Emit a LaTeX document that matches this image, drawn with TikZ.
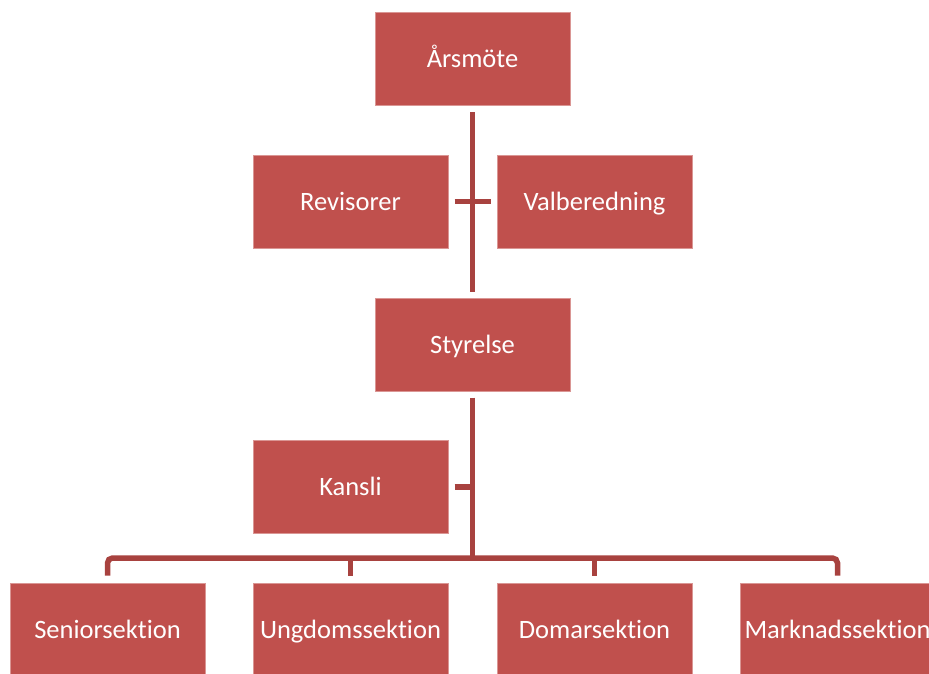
\documentclass[tikz,border=0pt]{standalone}
\usepackage{fontspec}
\setmainfont{Carlito}[Ligatures=NoCommon]
\usetikzlibrary{calc}
\definecolor{boxred}{HTML}{C0504D}
\definecolor{boxedge}{HTML}{DA9694}
\definecolor{linered}{HTML}{A8423F}
\tikzset{
  orgbox/.style={rectangle, fill=boxred, draw=boxedge, line width=1pt,
    minimum width=195pt, minimum height=93pt, inner sep=0pt,
    text height=17.1pt, text depth=0pt,
    text=white, font=\fontsize{26.5}{30}\selectfont},
  conn/.style={draw=linered, line width=5.5pt},
  gap/.style={shorten <=6pt, shorten >=6pt}
}
\begin{document}
\begin{tikzpicture}[x=1pt,y=-1pt]
\useasboundingbox (0,0) rectangle (929,673);
\fill[white] (0,0) rectangle (929,673);
\clip (0,0) rectangle (929,673);
\node[orgbox] (ars) at (472.5,59) {Årsmöte};
\node[orgbox] (rev) at (350.5,201.5) {Revisorer};
\node[orgbox] (val) at (594.5,201.5) {Valberedning};
\node[orgbox] (sty) at (472.5,344.5) {Styrelse};
\node[orgbox] (kan) at (350.5,487) {Kansli};
\node[orgbox] (sen) at (107.5,629.5) {Seniorsektion};
\node[orgbox] (ung) at (350.5,629.5) {Ungdomssektion};
\node[orgbox] (dom) at (594.5,629.5) {Domarsektion};
\node[orgbox] (mar) at (837.5,629.5) {Marknadssektion};
\coordinate (bus) at (472.5,558);
% connectors
\draw[conn,gap] (ars.south) -- (sty.north);
\draw[conn,gap] (rev.east) -- (val.west);
\draw[conn,shorten <=6pt] (kan.east) -- (kan.east -| sty.south);
\draw[conn,shorten <=6pt] (sty.south) -- (bus);
\draw[conn,rounded corners=5pt] ([yshift=7pt]sen.north) |- (bus) -| ([yshift=7pt]mar.north);
\draw[conn] ([yshift=7pt]ung.north) -- (ung.north |- bus);
\draw[conn] ([yshift=7pt]dom.north) -- (dom.north |- bus);
\end{tikzpicture}
\end{document}
